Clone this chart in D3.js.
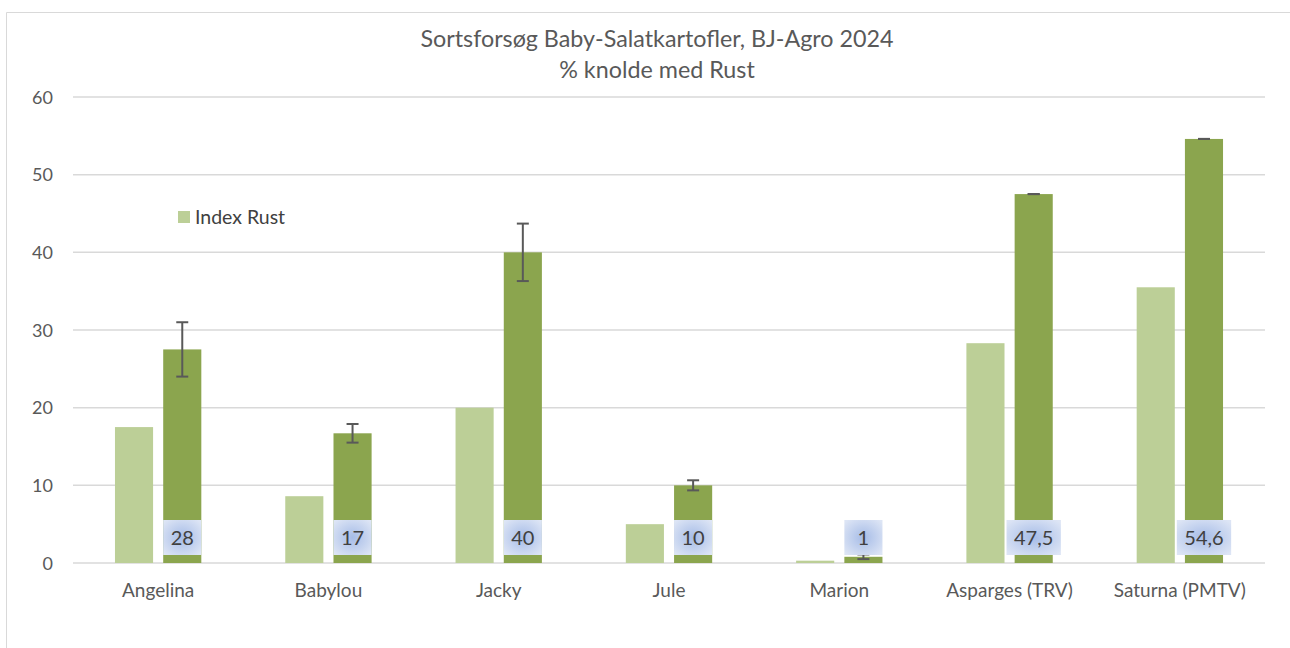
<!DOCTYPE html>
<html>
<head>
<meta charset="utf-8">
<script src="https://cdn.jsdelivr.net/npm/d3@7"></script>
<style>
  html, body { margin: 0; background: #fff; overflow: hidden; }
  svg { display: block; }
  svg text { font-family: Lato, "Open Sans", sans-serif; fill: #595959; }
</style>
</head>
<body>
<div id="chart"></div>
<script>
// Data
var categories = ["Angelina", "Babylou", "Jacky", "Jule", "Marion", "Asparges (TRV)", "Saturna (PMTV)"];
var index_rust = [17.5, 8.6, 20, 5, 0.3, 28.3, 35.5];
var pct_rust = [27.5, 16.7, 40, 10, 0.8, 47.5, 54.6];
var pct_err = [3.5, 1.2, 3.7, 0.65, 0.3, 0, 0];
var pct_labels = ["28", "17", "40", "10", "1", "47,5", "54,6"];
var y_ticks = [0, 10, 20, 30, 40, 50, 60];

var width = 1290,
    height = 648;

var light_green = "#bccf97",
    dark_green = "#8ba54e",
    grid_color = "#d9d9d9";

var svg = d3.select("#chart").append("svg")
  .attr("width", width)
  .attr("height", height);

// gradient for the data label boxes
var grad = svg.append("defs").append("radialGradient")
  .attr("id", "labelGrad")
  .attr("cx", "50%").attr("cy", "50%").attr("r", "65%");
grad.append("stop").attr("offset", "0%").attr("stop-color", "#a6bce7");
grad.append("stop").attr("offset", "100%").attr("stop-color", "#dde5f5");

// chart frame, only left and top edges are in view
svg.append("path")
  .attr("d", "M6.5," + height + "V12.5H" + width)
  .attr("fill", "none")
  .attr("stroke", grid_color)
  .attr("stroke-width", 1);

var plot = { left: 73, right: 1265, top: 97, bottom: 563 };

var x = d3.scaleBand()
  .domain(categories)
  .range([plot.left, plot.right]);

var bw = x.bandwidth();
var x1 = d3.scaleBand()
  .domain(["index", "pct"])
  .range([bw / 2 - 48, bw / 2 + 48])
  .paddingInner(0.21)
  .paddingOuter(0.1);

var y = d3.scaleLinear()
  .domain([0, 60])
  .range([plot.bottom, plot.top]);

// gridlines
svg.append("g")
  .selectAll("line")
  .data(y_ticks).enter()
  .append("line")
  .attr("x1", plot.left).attr("x2", plot.right)
  .attr("y1", function(d) { return y(d); })
  .attr("y2", function(d) { return y(d); })
  .attr("stroke", grid_color)
  .attr("stroke-width", 1.5);

// y tick labels
svg.append("g")
  .selectAll("text")
  .data(y_ticks).enter()
  .append("text")
  .attr("x", 53)
  .attr("y", function(d) { return y(d) + 6.5; })
  .attr("text-anchor", "end")
  .style("font-size", "18px")
  .text(function(d) { return d; });

// light bars
svg.append("g")
  .selectAll("rect")
  .data(index_rust).enter()
  .append("rect")
  .attr("x", function(d, i) { return x(categories[i]) + x1("index"); })
  .attr("y", function(d) { return y(d); })
  .attr("width", x1.bandwidth())
  .attr("height", function(d) { return y(0) - y(d); })
  .attr("fill", light_green);

// dark bars
svg.append("g")
  .selectAll("rect")
  .data(pct_rust).enter()
  .append("rect")
  .attr("x", function(d, i) { return x(categories[i]) + x1("pct"); })
  .attr("y", function(d) { return y(d); })
  .attr("width", x1.bandwidth())
  .attr("height", function(d) { return y(0) - y(d); })
  .attr("fill", dark_green);

// error bars
var err = svg.append("g")
  .attr("stroke", "#595959")
  .attr("stroke-width", 2);
pct_rust.forEach(function(v, i) {
  var cx = x(categories[i]) + x1("pct") + x1.bandwidth() / 2;
  var hi = y(v + pct_err[i]), lo = y(v - pct_err[i]);
  err.append("line").attr("x1", cx).attr("x2", cx).attr("y1", hi).attr("y2", lo);
  err.append("line").attr("x1", cx - 6).attr("x2", cx + 6).attr("y1", hi).attr("y2", hi);
  err.append("line").attr("x1", cx - 6).attr("x2", cx + 6).attr("y1", lo).attr("y2", lo);
});

// data labels (inside base)
var labels = svg.append("g");
pct_labels.forEach(function(lab, i) {
  var cx = x(categories[i]) + x1("pct") + x1.bandwidth() / 2;
  var g = labels.append("g");
  var rect = g.append("rect").attr("fill", "url(#labelGrad)");
  var t = g.append("text")
    .attr("x", cx)
    .attr("y", y(0) - 18)
    .attr("text-anchor", "middle")
    .style("font-size", "20px")
    .style("fill", "#404040")
    .text(lab);
  var w = Math.max(t.node().getComputedTextLength() + 15, x1.bandwidth(), 28);
  rect.attr("x", cx - w / 2)
    .attr("y", y(0) - 43)
    .attr("width", w)
    .attr("height", 35);
});

// x labels
svg.append("g")
  .selectAll("text")
  .data(categories).enter()
  .append("text")
  .attr("x", function(d) { return x(d) + bw / 2; })
  .attr("y", 597)
  .attr("text-anchor", "middle")
  .style("font-size", "19px")
  .text(function(d) { return d; });

// legend
svg.append("rect")
  .attr("x", 178).attr("y", 211)
  .attr("width", 12).attr("height", 12)
  .attr("fill", light_green);
svg.append("text")
  .attr("x", 195).attr("y", 224)
  .style("font-size", "19.5px")
  .style("fill", "#404040")
  .text("Index Rust");

// title
var title = svg.append("text")
  .attr("text-anchor", "middle")
  .style("font-size", "23.3px");
title.append("tspan").attr("x", 657).attr("y", 47).text("Sortsforsøg Baby-Salatkartofler, BJ-Agro 2024");
title.append("tspan").attr("x", 657).attr("y", 78).text("% knolde med Rust");
</script>
</body>
</html>
